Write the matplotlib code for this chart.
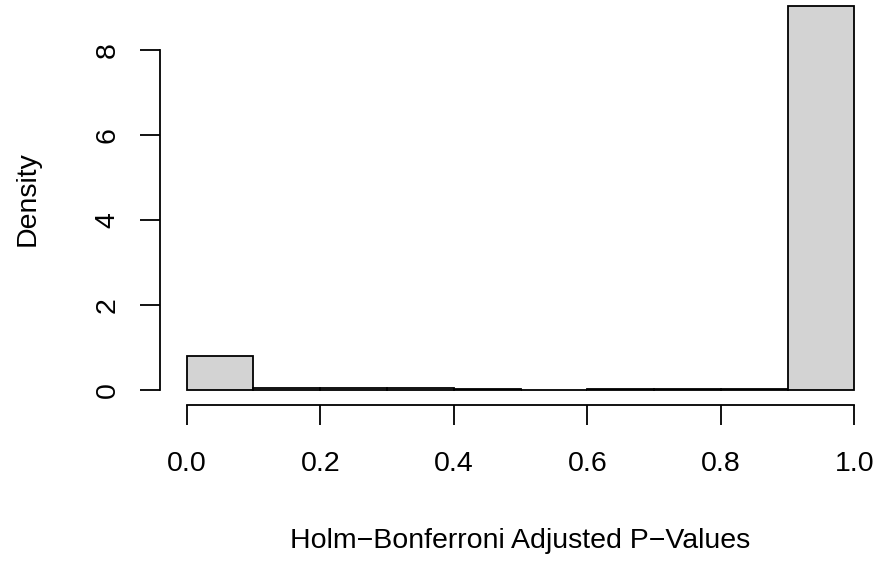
import matplotlib
matplotlib.use("Agg")
import matplotlib.pyplot as plt
import numpy as np

plt.rcParams['font.family'] = ['Liberation Sans', 'DejaVu Sans']

# histogram of adjusted p-values (density scale)
bin_edges = [0.0, 0.1, 0.2, 0.3, 0.4, 0.5, 0.6, 0.7, 0.8, 0.9, 1.0]
density = [0.80, 0.04, 0.04, 0.04, 0.01, 0.003, 0.01, 0.01, 0.01, 9.02]
yticks = [0, 2, 4, 6, 8]
xticks = [0.0, 0.2, 0.4, 0.6, 0.8, 1.0]

fig = plt.figure(figsize=(8.83, 5.63), dpi=100)
# plot region like R's par("usr") with 4% padding
ax = fig.add_axes([160/883, 1 - 405/563, 721/883, 413/563])

left = np.array(bin_edges[:-1])
widths = np.diff(bin_edges)
ax.bar(left, density, width=widths, align='edge', color='#d3d3d3',
       edgecolor='black', linewidth=1.3, clip_on=False)

ax.set_xlim(-0.04, 1.04)
ax.set_ylim(-0.36, 9.36)

for s in ['top', 'right']:
    ax.spines[s].set_visible(False)
ax.spines['left'].set_bounds(0, 8)
ax.spines['bottom'].set_bounds(0, 1)
ax.spines['left'].set_position(('data', -0.04))
ax.spines['bottom'].set_position(('data', -0.36))
ax.spines['left'].set_linewidth(1.3)
ax.spines['bottom'].set_linewidth(1.3)

ax.set_xticks(xticks)
ax.set_xticklabels(['%.1f' % v for v in xticks])
ax.set_yticks(yticks)
ax.set_yticklabels([str(v) for v in yticks], rotation=90, va='center')
ax.tick_params(axis='both', length=14.4, width=1.3, labelsize=20.5)
ax.tick_params(axis='x', pad=19)
ax.tick_params(axis='y', pad=14)

ax.set_xlabel('Holm\u2212Bonferroni Adjusted P\u2212Values', fontsize=20.5)
ax.set_ylabel('Density', fontsize=20.5)
ax.xaxis.set_label_coords(0.5, -0.298)
ax.yaxis.set_label_coords(-0.166, 0.5)

fig.savefig('out.png', dpi=100)
